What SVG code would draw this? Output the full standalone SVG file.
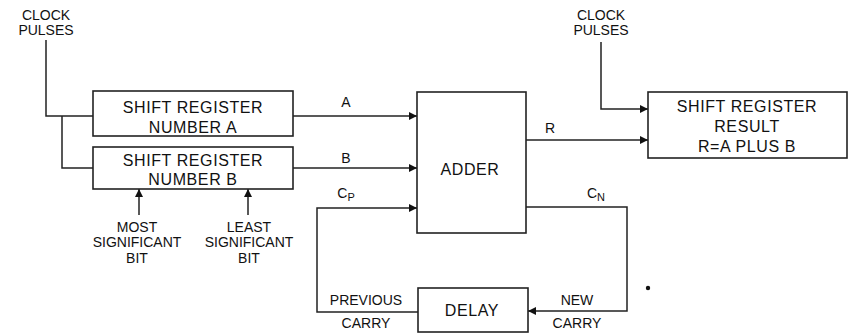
<svg xmlns="http://www.w3.org/2000/svg" width="850" height="333" viewBox="0 0 850 333">
<style>
.box{fill:#fff;stroke:#222;stroke-width:1.6}
.ln{fill:none;stroke:#222;stroke-width:1.5}
.big{font-family:"Liberation Sans",Arial,sans-serif;font-size:16px;letter-spacing:0.6px;fill:#111;text-anchor:middle}
.sm{font-family:"Liberation Sans",Arial,sans-serif;font-size:14px;fill:#111;text-anchor:middle}
.sub{font-family:"Liberation Sans",Arial,sans-serif;font-size:11px;fill:#111}
</style>
<defs>
<marker id="ah" viewBox="0 0 10 10" refX="10" refY="5" markerWidth="10" markerHeight="8" markerUnits="userSpaceOnUse" orient="auto">
<path d="M0,0 L10,5 L0,10 Z" fill="#111"/>
</marker>
</defs>
<rect width="850" height="333" fill="#fff"/>

<g id="connectors">
<path class="ln" d="M46,40 V116 H93"/>
<path class="ln" d="M62,116 V168 H93"/>
<path class="ln" d="M293,116 H417" marker-end="url(#ah)"/>
<path class="ln" d="M293,168 H417" marker-end="url(#ah)"/>
<path class="ln" d="M139,215 V189" marker-end="url(#ah)"/>
<path class="ln" d="M248,215 V189" marker-end="url(#ah)"/>
<path class="ln" d="M526,140 H648" marker-end="url(#ah)"/>
<path class="ln" d="M601,42 V109 H648" marker-end="url(#ah)"/>
<path class="ln" d="M526,207 H627 V311 H528" marker-end="url(#ah)"/>
<path class="ln" d="M418,312 H317 V208 H417" marker-end="url(#ah)"/>
</g>

<g id="clock-left">
<text class="sm" x="46" y="20">CLOCK</text>
<text class="sm" x="46" y="35">PULSES</text>
</g>
<g id="clock-right">
<text class="sm" x="601" y="20">CLOCK</text>
<text class="sm" x="601" y="35">PULSES</text>
</g>

<g id="shift-a">
<rect class="box" x="93" y="91" width="200" height="45"/>
<text class="big" x="193" y="113">SHIFT REGISTER</text>
<text class="big" x="193" y="133">NUMBER A</text>
</g>
<g id="shift-b">
<rect class="box" x="93" y="147" width="200" height="42"/>
<text class="big" x="193" y="166">SHIFT REGISTER</text>
<text class="big" x="193" y="185">NUMBER B</text>
</g>
<g id="adder">
<rect class="box" x="417" y="92" width="109" height="141"/>
<text class="big" x="470" y="175">ADDER</text>
</g>
<g id="result">
<rect class="box" x="648" y="92" width="199" height="66"/>
<text class="big" x="747" y="112">SHIFT REGISTER</text>
<text class="big" x="747" y="132">RESULT</text>
<text class="big" x="747" y="152">R=A PLUS B</text>
</g>
<g id="delay">
<rect class="box" x="418" y="288" width="110" height="44"/>
<text class="big" x="472" y="316">DELAY</text>
</g>

<g id="labels">
<text class="sm" x="346" y="107">A</text>
<text class="sm" x="346" y="163">B</text>
<text class="sm" x="550" y="133">R</text>
<text class="sm" x="346" y="198">C<tspan class="sub" dy="3">P</tspan></text>
<text class="sm" x="596" y="198">C<tspan class="sub" dy="3">N</tspan></text>
<text class="sm" x="137" y="232">MOST</text>
<text class="sm" x="137" y="247">SIGNIFICANT</text>
<text class="sm" x="137" y="263">BIT</text>
<text class="sm" x="249" y="232">LEAST</text>
<text class="sm" x="249" y="247">SIGNIFICANT</text>
<text class="sm" x="249" y="263">BIT</text>
<text class="sm" x="366" y="305">PREVIOUS</text>
<text class="sm" x="366" y="328">CARRY</text>
<text class="sm" x="577" y="305">NEW</text>
<text class="sm" x="577" y="328">CARRY</text>
</g>
<circle cx="648" cy="288" r="2.2" fill="#111"/>
</svg>
